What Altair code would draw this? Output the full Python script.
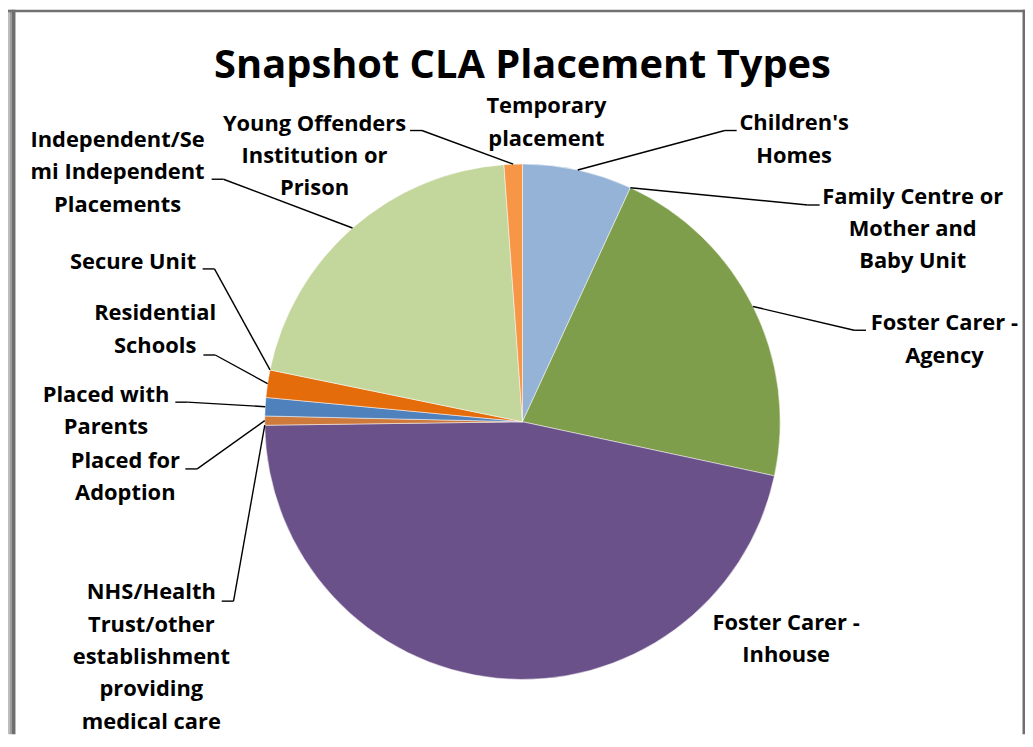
import altair as alt
import pandas as pd

# ---------------- data ----------------
categories = [
    "Children's Homes",
    "Family Centre or Mother and Baby Unit",
    "Foster Carer - Agency",
    "Foster Carer - Inhouse",
    "NHS/Health Trust/other establishment providing medical care",
    "Placed for Adoption",
    "Placed with Parents",
    "Residential Schools",
    "Secure Unit",
    "Independent/Semi Independent Placements",
    "Young Offenders Institution or Prison",
    "Temporary placement",
]
values = [24, 0, 75, 162, 0, 2, 4, 6, 0, 72, 4, 0]
colors = ["#95B3D7", "#C0504D", "#7F9E4B", "#6B5189", "#4BACC6", "#CD7A3C",
          "#4F81BD", "#E46C0A", "#8064A2", "#C3D69B", "#F79646", "#F79646"]
label_lines = [
    "Children's\nHomes",
    "Family Centre or\nMother and\nBaby Unit",
    "Foster Carer -\nAgency",
    "Foster Carer -\nInhouse",
    "NHS/Health\nTrust/other\nestablishment\nproviding\nmedical care",
    "Placed for\nAdoption",
    "Placed with\nParents",
    "Residential\nSchools",
    "Secure Unit",
    "Independent/Se\nmi Independent\nPlacements",
    "Young Offenders\nInstitution or\nPrison",
    "Temporary\nplacement",
]
title_text = "Snapshot CLA Placement Types"

# ---------------- label layout (pie-radius units, relative to pie centre; y = first text line) ----------------
label_x = [1.054, 1.514, 1.637, 1.023, -1.440, -1.541, -1.616, -1.425, -1.511, -1.571, -0.807, 0.093]
label_y = [1.158, 0.873, 0.382, -0.780, -0.662, -0.153, 0.105, 0.420, 0.620, 1.093, 1.156, 1.224]
lead_x = [0.831, 1.153, 1.333, 0.0, -1.167, -1.308, -1.347, -1.238, -1.241, -1.206, -0.436, 0.0]
lead_y = [1.130, 0.841, 0.355, 0.0, -0.696, -0.183, 0.076, 0.259, 0.593, 0.941, 1.130, 0.0]
lead_side = [-1, -1, -1, 0, 1, 1, 1, 1, 1, 1, 1, 0]

# ---------------- geometry ----------------
W, H = 1022, 728
R_PX = 259
CX, CY = 517, 414
xs = alt.Scale(domain=[-CX / R_PX, (W - CX) / R_PX], zero=False, nice=False)
ys = alt.Scale(domain=[-(H - CY) / R_PX, CY / R_PX], zero=False, nice=False)

df = pd.DataFrame({
    "idx": list(range(len(categories))),
    "category": categories,
    "value": values,
    "label": label_lines,
    "lx": label_x,
    "ly": label_y,
    "sx": lead_x,
    "sy": lead_y,
    "side": lead_side,
})

FONT = "Open Sans"

arcs = alt.Chart(df).transform_filter("datum.value > 0").mark_arc(
    radius=R_PX, stroke="white", strokeWidth=0.5
).encode(
    theta=alt.Theta("value:Q", stack=True),
    color=alt.Color("category:N", scale=alt.Scale(domain=categories, range=colors), legend=None),
    order=alt.Order("idx:Q", sort="ascending"),
    x=alt.XDatum(0, scale=xs, axis=None, type="quantitative"),
    y=alt.YDatum(0, scale=ys, axis=None, type="quantitative"),
)

lead_base = alt.Chart(df).transform_window(
    cum="sum(value)", sort=[alt.SortField("idx")], frame=[None, 0]
).transform_joinaggregate(
    total="sum(value)"
).transform_calculate(
    mid="(datum.cum - datum.value / 2) / datum.total * 2 * PI",
    ax="sin(datum.mid)",
    ay="cos(datum.mid)",
    ex="datum.sx + datum.side * 0.046",
).transform_filter("datum.side != 0")

seg1 = lead_base.mark_rule(color="black", strokeWidth=1.4).encode(
    x=alt.X("sx:Q", scale=xs, axis=None),
    y=alt.Y("sy:Q", scale=ys, axis=None),
    x2="ex:Q",
    y2="sy:Q",
)
seg2 = lead_base.mark_rule(color="black", strokeWidth=1.4).encode(
    x=alt.X("ex:Q", scale=xs, axis=None),
    y=alt.Y("sy:Q", scale=ys, axis=None),
    x2="ax:Q",
    y2="ay:Q",
)

labels = alt.Chart(df).mark_text(
    font=FONT, fontSize=22, fontWeight="bold", lineBreak="\n", lineHeight=32.5,
    align="center", baseline="middle", color="black"
).encode(
    x=alt.X("lx:Q", scale=xs, axis=None),
    y=alt.Y("ly:Q", scale=ys, axis=None),
    text="label:N",
)

title = alt.Chart(pd.DataFrame({"t": [title_text]})).mark_text(
    font=FONT, fontSize=40, fontWeight="bold", align="center", baseline="alphabetic", color="black"
).encode(x=alt.value(CX), y=alt.value(69), text="t:N")

one = pd.DataFrame({"a": [0]})
def frame_rect(x0, x1, y0, y1, c):
    return alt.Chart(one).mark_rect(color=c).encode(
        x=alt.value(x0), x2=alt.value(x1), y=alt.value(y0), y2=alt.value(y1)
    )

frame = [
    frame_rect(0, 2, 0, H, "#bdbdbd"),
    frame_rect(2, 4, 0, H, "#9c9c9c"),
    frame_rect(4, 7.5, 0, H, "#6e6e6e"),
    frame_rect(0, W, 0, 2.5, "#727272"),
    frame_rect(W - 2.5, W, 0, H, "#6e6e6e"),
]

chart = alt.layer(*frame, arcs, seg1, seg2, labels, title).properties(
    width=W, height=H,
    autosize=alt.AutoSizeParams(type="none"),
    padding=0,
    background="white",
).configure_view(stroke=None)

chart.save("out.html", embed_options={"renderer": "svg", "actions": False})
